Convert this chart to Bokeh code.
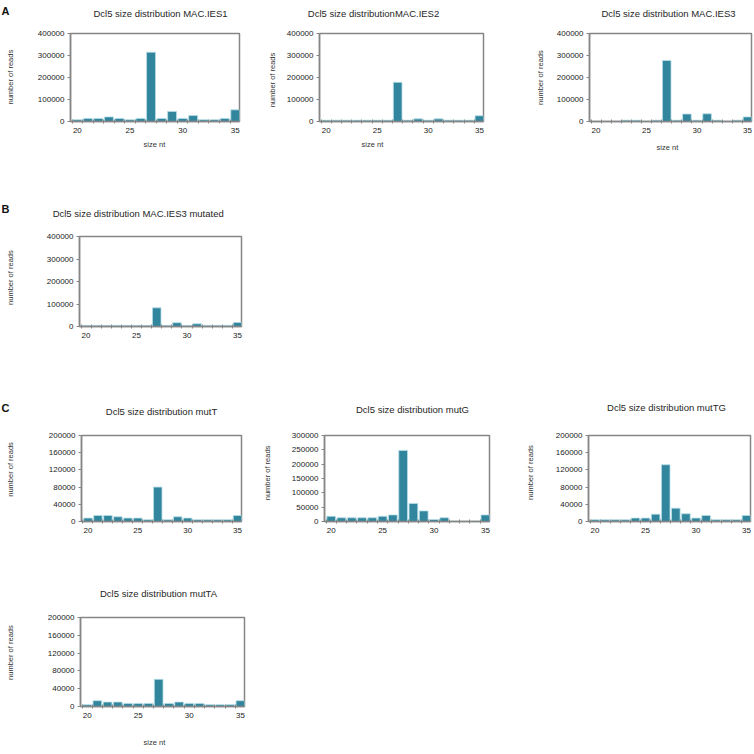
import math
from bokeh.plotting import figure
from bokeh.models import Range1d, FixedTicker, Label, BasicTickFormatter
from bokeh.layouts import column, row
from bokeh.embed import file_html
from bokeh.resources import INLINE

# ---------------- data ----------------
sizes = list(range(20, 36))
x_tick_values = [20, 25, 30, 35]

mac_ies1 = [8000, 14000, 14000, 21000, 14000, 8000, 14000, 315000,
            14000, 46000, 14000, 27000, 8000, 8000, 14000, 53000]
mac_ies2 = [6000, 6000, 6000, 6000, 6000, 6000, 6000, 178000,
            6000, 12000, 6000, 12000, 6000, 6000, 6000, 26000]
mac_ies3 = [1000, 1000, 1000, 6000, 6000, 1000, 6000, 277000,
            6000, 34000, 6000, 35000, 6000, 1000, 6000, 21000]
mac_ies3_mut = [5000, 5000, 5000, 5000, 5000, 5000, 5000, 83000,
                5000, 17000, 5000, 12000, 5000, 5000, 5000, 18000]
mut_t = [8000, 14000, 14000, 11000, 8000, 8000, 4000, 80000,
         4000, 11000, 8000, 4000, 4000, 4000, 4000, 14000]
mut_g = [18000, 13000, 13000, 13000, 13000, 18000, 23000, 248000,
         63000, 37000, 7000, 13000, 1000, 1000, 1000, 23000]
mut_tg = [4000, 4000, 4000, 4000, 8000, 8000, 17000, 132000,
          31000, 18000, 8000, 14000, 4000, 4000, 4000, 14000]
mut_ta = [4000, 13000, 10000, 10000, 7000, 7000, 7000, 61000,
          7000, 10000, 7000, 7000, 4000, 4000, 4000, 13000]

yticks_400k = [0, 100000, 200000, 300000, 400000]
yticks_300k = [0, 50000, 100000, 150000, 200000, 250000, 300000]
yticks_200k = [0, 40000, 80000, 120000, 160000, 200000]

titles = ["Dcl5 size distribution MAC.IES1",
          "Dcl5 size distributionMAC.IES2",
          "Dcl5 size distribution MAC.IES3",
          "Dcl5 size distribution MAC.IES3  mutated",
          "Dcl5 size distribution mutT",
          "Dcl5 size distribution mutG",
          "Dcl5 size distribution mutTG",
          "Dcl5 size distribution mutTA"]
y_axis_title = "number  of  reads"
x_axis_title = "size  nt"
panel_letters = ["A", "B", "C"]

# ---------------- style ----------------
FONT = "Liberation Sans"
BAR = "#31859c"
BAR_EDGE = "#b7dee8"
GRAY = "#868686"
X0, X1 = 19.35, 35.4


def panel(title, values, yticks, cell, frame, title_xy, ylab_xy,
          xlab_xy=None, letter=None):
    cx, cy, cw, ch = cell
    L, T, R, B = frame
    ymax = yticks[-1]
    p = figure(width=cw, height=ch,
               x_range=Range1d(X0, X1), y_range=Range1d(0, ymax),
               output_backend="svg", toolbar_location=None,
               min_border_left=L - cx, min_border_right=cx + cw - R,
               min_border_top=T - cy, min_border_bottom=cy + ch - B)
    p.background_fill_color = "white"
    p.border_fill_color = "white"
    p.outline_line_color = GRAY
    p.outline_line_width = 1.5
    p.xgrid.visible = False
    p.ygrid.visible = False

    p.vbar(x=sizes, top=values, bottom=0, width=0.85,
           fill_color=BAR, line_color=BAR_EDGE, line_width=0.8)

    xa = p.xaxis[0]
    xa.ticker = FixedTicker(ticks=x_tick_values,
                            minor_ticks=[s - 0.5 for s in sizes] + [sizes[-1] + 0.5])
    xa.axis_line_color = GRAY
    xa.axis_line_width = 1.5
    xa.major_tick_out = 0
    xa.major_tick_in = 0
    xa.minor_tick_out = 2
    xa.minor_tick_in = 2
    xa.minor_tick_line_color = GRAY
    xa.major_label_text_font = FONT
    xa.major_label_text_font_size = "8px"
    xa.major_label_text_color = "#222222"
    xa.major_label_standoff = 4

    ya = p.yaxis[0]
    ya.ticker = FixedTicker(ticks=yticks, minor_ticks=[])
    ya.formatter = BasicTickFormatter(use_scientific=False)
    ya.axis_line_color = GRAY
    ya.axis_line_width = 1.5
    ya.major_tick_out = 3
    ya.major_tick_in = 0
    ya.major_tick_line_color = GRAY
    ya.minor_tick_out = 0
    ya.minor_tick_in = 0
    ya.major_label_text_font = FONT
    ya.major_label_text_font_size = "8px"
    ya.major_label_text_color = "#222222"
    ya.major_label_standoff = 3

    def dx(xr):
        return X0 + (xr - L) / (R - L) * (X1 - X0)

    def dy(yr):
        return (B - yr) / (B - T) * ymax

    # texts live in side panels so that they are not clipped to the frame
    p.add_layout(Label(x=dx(title_xy[0]), y=dy(title_xy[1]), text=title,
                       text_font=FONT, text_font_size="9.5px",
                       text_color="#262626", text_align="center",
                       text_baseline="middle"), "above")
    p.add_layout(Label(x=dx(ylab_xy[0]), y=dy(ylab_xy[1]), text=y_axis_title,
                       angle=math.pi / 2, text_font=FONT,
                       text_font_size="7.5px", text_color="#333333",
                       text_align="center", text_baseline="middle"), "left")
    if xlab_xy is not None:
        p.add_layout(Label(x=dx(xlab_xy[0]), y=dy(xlab_xy[1]), text=x_axis_title,
                           text_font=FONT, text_font_size="7.5px",
                           text_color="#333333", text_align="center",
                           text_baseline="middle"), "below")
    if letter is not None:
        p.add_layout(Label(x=dx(letter[1]), y=dy(letter[2]), text=letter[0],
                           text_font=FONT, text_font_size="11px",
                           text_font_style="bold", text_color="#111111",
                           text_align="left", text_baseline="top"), "above")
    return p


# cells and frames in reference-image pixels (cell: x, y, w, h; frame: L, T, R, B)
a1 = panel(titles[0], mac_ies1, yticks_400k, (0, 0, 258, 165), (70, 32, 239, 123),
           (160, 11), (10, 75), (155, 147), (panel_letters[0], 1, 3))
a2 = panel(titles[1], mac_ies2, yticks_400k, (258, 0, 250, 165), (319, 33, 483, 126),
           (373, 12), (272, 80), (373, 150))
a3 = panel(titles[2], mac_ies3, yticks_400k, (508, 0, 246, 165), (589, 33, 751, 121),
           (668, 13), (540, 75), (668, 147))
b1 = panel(titles[3], mac_ies3_mut, yticks_400k, (0, 165, 258, 193), (79, 236, 241, 326),
           (139, 213), (10, 275), None, (panel_letters[1], 1, 202))
c1 = panel(titles[4], mut_t, yticks_200k, (0, 358, 258, 200), (81, 432, 241, 521),
           (161, 407), (10, 465), None, (panel_letters[2], 1, 397))
c2 = panel(titles[5], mut_g, yticks_300k, (258, 358, 250, 200), (324, 433, 489, 523),
           (412, 406), (267, 470))
c3 = panel(titles[6], mut_tg, yticks_200k, (508, 358, 246, 200), (588, 435, 750, 521),
           (666, 407), (530, 470))
c4 = panel(titles[7], mut_ta, yticks_200k, (0, 558, 258, 196), (80, 617, 244, 706),
           (158, 593), (10, 650), (155, 742))

layout = column(row(a1, a2, a3), row(b1), row(c1, c2, c3), row(c4))

open("out.html", "w").write(file_html(layout, INLINE))
